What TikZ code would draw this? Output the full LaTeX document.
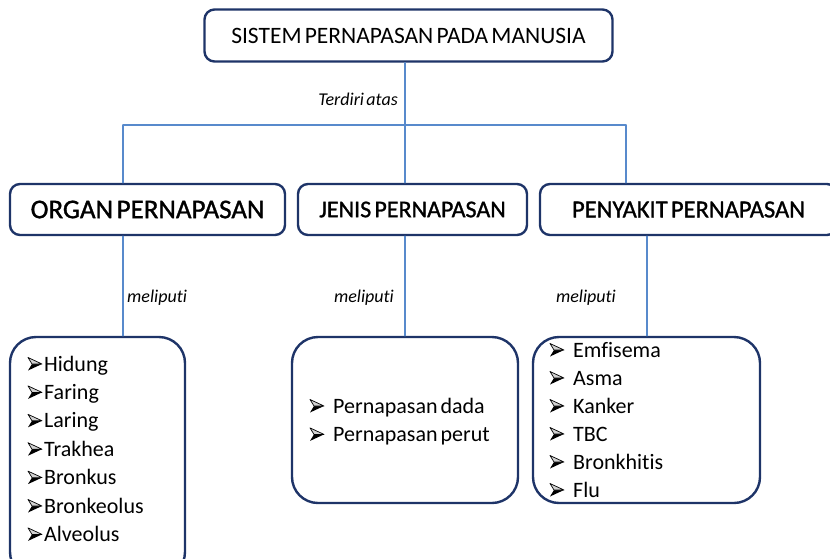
\documentclass[tikz,border=0pt]{standalone}
\usepackage{fontspec}
\setmainfont{Carlito}[Ligatures=NoCommon,WordSpace=0.6]
\newfontfamily\headfont{Carlito}[Ligatures=NoCommon,WordSpace=0.6,FakeBold=1.2]
\definecolor{boxblue}{RGB}{30,52,104}
\definecolor{linkblue}{RGB}{88,138,204}
\newcommand{\fsz}[1]{\fontsize{#1}{#1}\selectfont}
\tikzset{
  listarrow/.pic={
    \fill[black] (0,6.5) -- (14,0) -- (4,0) -- cycle;
    \filldraw[draw=black,fill=gray!35,line width=0.7pt] (0,-6.5) -- (14,0) -- (4,0) -- cycle;
  }
}

\begin{document}
\begin{tikzpicture}[x=1pt,y=-1pt,line cap=round,line join=round,
  box/.style={draw=boxblue,line width=2.4pt,rounded corners=10pt,fill=white,inner sep=0pt},
  listbox/.style={box,rounded corners=26pt},
  link/.style={draw=linkblue,line width=1.3pt},
  tag/.style={inner sep=0pt,font=\fsz{18pt}\itshape},
  entry/.style={inner sep=0pt,anchor=base west,font=\fsz{22pt}}]
  \useasboundingbox (0,0) rectangle (830,558);
  \clip (0,0) rectangle (830,558);
  % boxes
  \node[box,minimum width=408pt,minimum height=52pt,font=\fsz{23.5pt}] (sistem)
    at (408.5,35.5) {SISTEM PERNAPASAN PADA MANUSIA};
  \node[box,minimum width=275pt,minimum height=51pt,font=\headfont\fsz{27pt}] (organ)
    at (147.5,209.5) {ORGAN PERNAPASAN};
  \node[box,minimum width=229pt,minimum height=51pt,font=\headfont\fsz{24pt}] (jenis)
    at (412.5,209.5) {JENIS PERNAPASAN};
  \node[box,minimum width=297pt,minimum height=51pt,font=\headfont\fsz{24.5pt}] (penyakit)
    at (688.5,209.5) {PENYAKIT PERNAPASAN};
  \node[listbox,minimum width=175pt,minimum height=241pt] (organlist) at (97.5,457.5) {};
  \node[listbox,minimum width=226pt,minimum height=166pt] (jenislist) at (405,420) {};
  \node[listbox,minimum width=227pt,minimum height=166pt] (penyakitlist) at (646.5,420) {};
  % connectors
  \coordinate (barL) at (123,125);
  \coordinate (barM) at (405,125);
  \coordinate (barR) at (626,125);
  \draw[link] (sistem.south -| barM) -- (barM);
  \draw[link] (barL) -- (barR);
  \draw[link] (barL) -- (barL |- organ.north);
  \draw[link] (barM) -- (barM |- jenis.north);
  \draw[link] (barR) -- (barR |- penyakit.north);
  \coordinate (dropL) at (123,0);
  \coordinate (dropM) at (405,0);
  \coordinate (dropR) at (647,0);
  \draw[link] (organ.south -| dropL) -- (organlist.north -| dropL);
  \draw[link] (jenis.south -| dropM) -- (jenislist.north -| dropM);
  \draw[link] (penyakit.south -| dropR) -- (penyakitlist.north -| dropR);
  % labels
  \node[tag,anchor=base east] (terdiri) at (398,105) {Terdiri atas};
  \node[tag,anchor=base west] (meliputiA) at (127,302) {meliputi};
  \node[tag,anchor=base east] (meliputiB) at (394,302) {meliputi};
  \node[tag,anchor=base east] (meliputiC) at (616,302) {meliputi};
  % lists
  \foreach \txt [count=\i] in {Hidung,Faring,Laring,Trakhea,Bronkus,Bronkeolus,Alveolus}{
    \pgfmathsetmacro\y{371+(\i-1)*28.4}
    \pic at (28,\y-7) {listarrow};
    \node[entry] (organ-\i) at (44,\y) {\txt};
  }
  \foreach \txt [count=\i] in {Pernapasan dada,Pernapasan perut}{
    \pgfmathsetmacro\y{413+(\i-1)*28.4}
    \pic at (310,\y-7) {listarrow};
    \node[entry] (jenis-\i) at (333,\y) {\txt};
  }
  \foreach \txt [count=\i] in {Emfisema,Asma,Kanker,TBC,Bronkhitis,Flu}{
    \pgfmathsetmacro\y{357+(\i-1)*28}
    \pic at (550,\y-7) {listarrow};
    \node[entry] (penyakit-\i) at (573,\y) {\txt};
  }
\end{tikzpicture}
\end{document}
